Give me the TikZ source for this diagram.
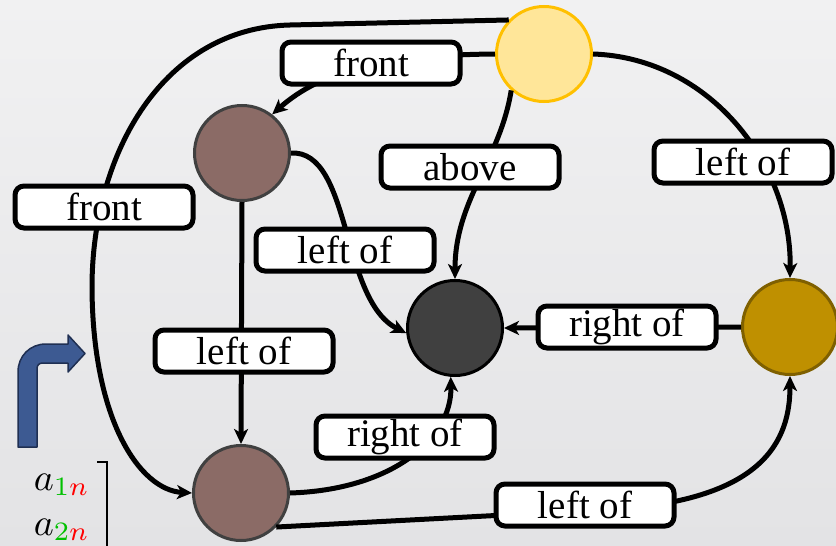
\documentclass[tikz,border=0pt]{standalone}
\usepackage{fontspec}
\setmainfont{Liberation Serif}
\usetikzlibrary{arrows.meta,shapes.geometric}
\definecolor{bgtop}{HTML}{F1F1F2}
\definecolor{bgbot}{HTML}{E3E3E5}
\definecolor{sun}{HTML}{FFE699}
\definecolor{sunrim}{HTML}{FFC000}
\definecolor{clay}{HTML}{8B6B66}
\definecolor{rim}{HTML}{404040}
\definecolor{coal}{HTML}{404040}
\definecolor{ochre}{HTML}{BF9000}
\definecolor{ochrerim}{HTML}{7F6000}
\definecolor{navyfill}{HTML}{3D5A92}
\definecolor{navyrim}{HTML}{1F2F52}
\definecolor{subgreen}{HTML}{00C000}
\tikzset{
  ball/.style={circle,minimum size=95pt,inner sep=0pt,line width=3pt},
  tag/.style={draw=black,fill=white,line width=5pt,rounded corners=9pt,
    minimum width=178pt,minimum height=42pt,inner sep=0pt,
    font=\fontsize{39}{41}\selectfont},
  link/.style={line width=5pt,-{Stealth[length=15pt,width=14pt,inset=4pt]}},
  entry/.style={anchor=base east,inner sep=0pt},
}
\newcommand{\bigentry}[1]{\scalebox{3.8}{$a_{#1}$}}
\begin{document}
\begin{tikzpicture}[x=1pt,y=-1pt]
  % backdrop
  \shade[top color=bgtop,bottom color=bgbot] (0,0) rectangle (836,546);
  \useasboundingbox (0,0) rectangle (836,546);

  % state circles
  \node[ball,fill=sun,draw=sunrim] (Y) at (544,54) {};
  \node[ball,fill=clay,draw=rim] (B1) at (242,153) {};
  \node[ball,fill=coal,draw=black] (D) at (455,328) {};
  \node[ball,fill=ochre,draw=ochrerim] (G) at (790,327) {};
  \node[ball,fill=clay,draw=rim] (B2) at (241,493) {};

  % relations
  \draw[link] (Y.136) -- (290,25) .. controls (165,28) and (93,150) .. (92,285)
        .. controls (92,420) and (140,490) .. (B2.west);
  \draw[link] (Y.west) .. controls (380,55) and (320,72) .. (B1.52);
  \draw[link] (Y.228) .. controls (500,160) and (455,200) .. (D.north);
  \draw[link] (Y.east) .. controls (710,58) and (792,165) .. (G.north);
  \draw[link] (B1.east) .. controls (352,150) and (340,300) .. (D.186);
  \draw[link] (B1.south) -- (B2.north);
  \draw[link] (G.west) -- (D.east);
  \draw[link] (B2.east) .. controls (390,490) and (452,440) .. (D.-95);
  \draw[link] (B2.-44) -- (600,510) .. controls (765,503) and (790,440) .. (G.south);

  % relation labels
  \node[tag] (t1) at (371,63) {front};
  \node[tag] (t2) at (104,207) {front};
  \node[tag] (t3) at (470,167) {above};
  \node[tag] (t4) at (743,162) {left of};
  \node[tag] (t5) at (345,250) {left of};
  \node[tag] (t6) at (627,327) {right of};
  \node[tag] (t7) at (244,351) {left of};
  \node[tag] (t8) at (405,437) {right of};
  \node[tag] (t9) at (585,505) {left of};

  % bent arrow icon
  \draw[fill=navyfill,draw=navyrim,line width=1.5pt,line join=round]
    (18,447) -- (18,372) .. controls (18,356) and (30,344) .. (46,344)
    -- (68,344) -- (68,335) -- (85,353.5) -- (68,372) -- (68,363)
    -- (43,363) .. controls (39,363) and (37,365) .. (37,369)
    -- (37,447) -- cycle;

  % matrix column fragment
  \node[entry] (m1) at (90,490)
    {\bigentry{\textcolor{subgreen}{1}\textcolor{red}{n}}};
  \node[entry] (m2) at (90,535)
    {\bigentry{\textcolor{subgreen}{2}\textcolor{red}{n}}};
  \draw[line width=2pt] (97,462) -- (107,462) -- (107,548);
\end{tikzpicture}
\end{document}
